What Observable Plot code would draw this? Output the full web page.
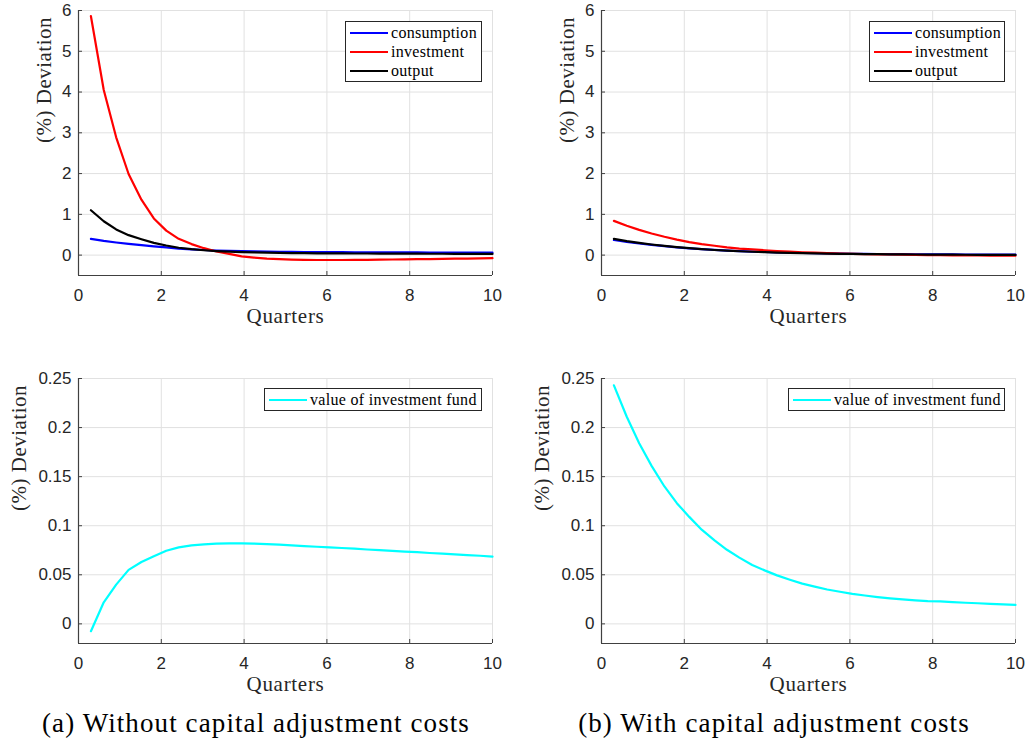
<!DOCTYPE html>
<html>
<head>
<meta charset="utf-8">
<script src="https://cdn.jsdelivr.net/npm/d3@7"></script>
<script src="https://cdn.jsdelivr.net/npm/@observablehq/plot@0.6"></script>
<style>
  html, body { margin: 0; padding: 0; background: #fff; }
  #page { position: relative; width: 1028px; height: 746px; overflow: hidden; }
  .panel { position: absolute; }
  .legend { position: absolute; box-sizing: border-box; border: 1px solid #262626; background: #fff;
            font-family: "Liberation Serif", "DejaVu Serif", serif; font-size: 16px; letter-spacing: 0.3px; color: #000; }
  .legend .row { height: 19px; line-height: 19px; white-space: nowrap; }
  .legend .sw { display: inline-block; width: 38px; height: 2.2px; vertical-align: middle; margin-left: 4px; margin-right: 3px; position: relative; top: -1px; }
  .caption { position: absolute; top: 706px; font-family: "Liberation Serif", "DejaVu Serif", serif; font-size: 27px; letter-spacing: 1.1px; color: #000; text-align: center; line-height: 34px; white-space: nowrap; }
  .serifText { font-family: "Liberation Serif", "DejaVu Serif", serif !important; }
</style>
</head>
<body>
<div id="page"></div>
<script>
// Quarters (x positions of the model periods)
const quarters = [0.30,0.61,0.91,1.21,1.52,1.82,2.12,2.42,2.73,3.03,3.33,3.64,3.94,4.24,4.55,4.85,5.15,5.45,5.76,6.06,6.36,6.67,6.97,7.27,7.58,7.88,8.18,8.48,8.79,9.09,9.39,9.70,10.00];

// (a) Without capital adjustment costs
const aConsumption = [0.40,0.35,0.31,0.275,0.245,0.215,0.19,0.16,0.14,0.125,0.112,0.103,0.096,0.09,0.086,0.082,0.079,0.077,0.075,0.073,0.071,0.07,0.069,0.068,0.067,0.066,0.065,0.064,0.063,0.062,0.061,0.061,0.06];
const aInvestment  = [5.86,4.05,2.89,1.99,1.36,0.90,0.60,0.40,0.27,0.17,0.09,0.03,-0.03,-0.06,-0.085,-0.10,-0.11,-0.117,-0.12,-0.12,-0.12,-0.118,-0.115,-0.112,-0.108,-0.104,-0.10,-0.096,-0.092,-0.088,-0.084,-0.08,-0.076];
const aOutput      = [1.10,0.83,0.63,0.49,0.39,0.30,0.235,0.18,0.145,0.12,0.10,0.086,0.074,0.066,0.059,0.054,0.05,0.047,0.045,0.043,0.041,0.04,0.039,0.038,0.037,0.036,0.035,0.034,0.033,0.032,0.031,0.031,0.03];
const aFund        = [-0.0075,0.022,0.040,0.055,0.063,0.069,0.0745,0.078,0.080,0.081,0.0817,0.082,0.082,0.0818,0.0813,0.0807,0.080,0.0793,0.0786,0.078,0.0773,0.0766,0.0758,0.0751,0.0744,0.0737,0.073,0.0722,0.0715,0.0708,0.0701,0.0694,0.0685];

// (b) With capital adjustment costs
const bConsumption = [0.37,0.325,0.285,0.25,0.22,0.19,0.165,0.145,0.127,0.112,0.098,0.086,0.076,0.067,0.059,0.052,0.046,0.041,0.037,0.033,0.030,0.027,0.024,0.022,0.020,0.018,0.017,0.016,0.015,0.014,0.013,0.012,0.011];
const bInvestment  = [0.84,0.72,0.62,0.53,0.45,0.38,0.32,0.27,0.23,0.19,0.16,0.14,0.12,0.10,0.085,0.07,0.06,0.05,0.04,0.03,0.025,0.02,0.015,0.01,0.005,0.0,-0.003,-0.006,-0.008,-0.01,-0.012,-0.013,-0.015];
const bOutput      = [0.40,0.345,0.30,0.26,0.225,0.195,0.17,0.145,0.125,0.11,0.095,0.083,0.072,0.063,0.055,0.048,0.042,0.037,0.032,0.028,0.025,0.022,0.019,0.017,0.015,0.013,0.011,0.010,0.009,0.008,0.007,0.006,0.005];
const bFund        = [0.243,0.211,0.184,0.161,0.140,0.123,0.109,0.096,0.085,0.0755,0.0675,0.060,0.0545,0.0494,0.045,0.041,0.038,0.035,0.0327,0.0306,0.0289,0.0273,0.026,0.0249,0.0239,0.0231,0.023,0.0222,0.0215,0.021,0.0203,0.0198,0.0193];

// Axis ticks and labels
const xTicks = [0,2,4,6,8,10];
const topYTicks = [0,1,2,3,4,5,6];
const bottomYTicks = [0,0.05,0.1,0.15,0.2,0.25];
const xLabel = "Quarters";
const yLabel = "(%) Deviation";
const macroNames = ["consumption","investment","output"];
const macroColors = ["#0000ff","#ff0000","#000000"];
const fundName = "value of investment fund";
const fundColor = "#00ffff";
const captions = ["(a) Without capital adjustment costs","(b) With capital adjustment costs"];

const page = document.getElementById("page");
const serif = "Liberation Serif, DejaVu Serif, serif";

function toRows(arr) { return quarters.map((x, i) => ({x, y: arr[i]})); }

function panel({left, top, yDomain, yTicks, yFmt, series, ylabDx}) {
  const marks = [
    Plot.gridX(xTicks, {stroke: "#e1e1e1", strokeOpacity: 1, strokeWidth: 1}),
    Plot.gridY(yTicks, {stroke: "#e1e1e1", strokeOpacity: 1, strokeWidth: 1}),
    Plot.ruleX([0], {stroke: "#404040", strokeWidth: 1.2}),
    Plot.ruleY([yDomain[0]], {stroke: "#404040", strokeWidth: 1.2}),
    Plot.axisX({ticks: xTicks, tickSize: -4, tickPadding: 17, label: null, fill: "#262626", stroke: "#404040"}),
    Plot.axisY({ticks: yTicks, tickSize: -4, tickPadding: 11, tickFormat: yFmt, label: null, fill: "#262626", stroke: "#404040"}),
    Plot.text([xLabel], {frameAnchor: "bottom", dy: 47, fontFamily: serif, fontSize: 21, fill: "#262626"}),
    Plot.text([yLabel], {frameAnchor: "left", rotate: -90, dx: ylabDx, fontFamily: serif, fontSize: 21, fill: "#262626"}),
    ...series.map(s => Plot.line(toRows(s.values), {x: "x", y: "y", stroke: s.color, strokeWidth: 2.2}))
  ];
  const svg = Plot.plot({
    width: 510, height: 330,
    marginLeft: 78, marginRight: 18, marginTop: 10, marginBottom: 55,
    x: {domain: [0, 10]},
    y: {domain: yDomain},
    style: {fontFamily: "Liberation Sans, Arial, sans-serif", fontSize: "17px", color: "#262626", background: "transparent", overflow: "visible"},
    marks
  });
  svg.classList.add("panel");
  svg.style.left = left + "px";
  svg.style.top = top + "px";
  svg.querySelectorAll("text").forEach(t => {
    if (t.textContent === yLabel || t.textContent === xLabel) {
      t.classList.add("serifText");
      t.style.fontFamily = '"Liberation Serif", "DejaVu Serif", serif';
      t.style.fontSize = "21px";
      t.style.letterSpacing = t.textContent === xLabel ? "0.7px" : "0.5px";
    }
  });
  page.appendChild(svg);
}

function legend(left, top, width, items) {
  const d = document.createElement("div");
  d.className = "legend";
  d.style.left = left + "px";
  d.style.top = top + "px";
  d.style.width = width + "px";
  d.style.paddingTop = "0.5px";
  d.style.paddingBottom = "1px";
  items.forEach(it => {
    const r = document.createElement("div");
    r.className = "row";
    const sw = document.createElement("span");
    sw.className = "sw";
    sw.style.background = it.color;
    r.appendChild(sw);
    r.appendChild(document.createTextNode(it.name));
    d.appendChild(r);
  });
  page.appendChild(d);
}

const intFmt = d => String(d);
const decFmt = d => d === 0 ? "0" : String(d);

panel({left: 0, top: 0, yDomain: [-0.5, 6], yTicks: topYTicks, yFmt: intFmt, ylabDx: -34,
  series: [{values: aConsumption, color: macroColors[0]}, {values: aInvestment, color: macroColors[1]}, {values: aOutput, color: macroColors[2]}]});
panel({left: 523, top: 0, yDomain: [-0.5, 6], yTicks: topYTicks, yFmt: intFmt, ylabDx: -34,
  series: [{values: bConsumption, color: macroColors[0]}, {values: bInvestment, color: macroColors[1]}, {values: bOutput, color: macroColors[2]}]});
panel({left: 0, top: 368, yDomain: [-0.02, 0.25], yTicks: bottomYTicks, yFmt: decFmt, ylabDx: -59,
  series: [{values: aFund, color: fundColor}]});
panel({left: 523, top: 368, yDomain: [-0.02, 0.25], yTicks: bottomYTicks, yFmt: decFmt, ylabDx: -59,
  series: [{values: bFund, color: fundColor}]});

const macroItems = macroNames.map((n, i) => ({name: n, color: macroColors[i]}));
legend(345, 21, 137, macroItems);
legend(869, 21, 136, macroItems);
legend(264, 388, 218, [{name: fundName, color: fundColor}]);
legend(788, 388, 217, [{name: fundName, color: fundColor}]);

[[0, 512], [516, 516]].forEach(([l, w], i) => {
  const c = document.createElement("div");
  c.className = "caption";
  c.style.left = l + "px";
  c.style.width = w + "px";
  c.textContent = captions[i];
  page.appendChild(c);
});
</script>
</body>
</html>
